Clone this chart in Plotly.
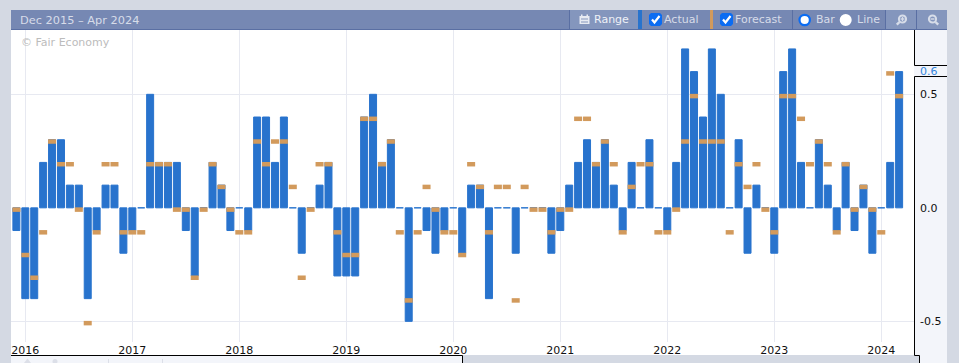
import plotly.graph_objects as go
import pandas as pd

months = pd.date_range("2015-12-01", "2024-03-01", freq="MS").strftime("%Y-%m").tolist()
year_ticks = ["2016-01", "2017-01", "2018-01", "2019-01", "2020-01", "2021-01", "2022-01", "2023-01", "2024-01"]
year_labels = ["2016", "2017", "2018", "2019", "2020", "2021", "2022", "2023", "2024"]
value_ticks = [-0.5, 0.0, 0.5]
value_labels = ["-0.5", "0.0", "0.5"]

actual = [-0.1,
          -0.4, -0.4, 0.2, 0.3, 0.3, 0.1, 0.1, -0.4, -0.1, 0.1, 0.1, -0.2,
          -0.1, 0.0, 0.5, 0.2, 0.2, 0.2, -0.1, -0.3, 0.0, 0.2, 0.1, -0.1,
          0.0, -0.1, 0.4, 0.4, 0.2, 0.4, 0.0, -0.2, 0.0, 0.1, 0.2, -0.3,
          -0.3, -0.3, 0.4, 0.5, 0.2, 0.3, 0.0, -0.5, 0.0, -0.1, -0.2, -0.1,
          0.0, -0.2, 0.1, 0.1, -0.4, 0.0, 0.0, -0.2, 0.0, 0.0, 0.0, -0.2,
          -0.1, 0.1, 0.2, 0.3, 0.2, 0.3, 0.1, -0.1, 0.2, 0.0, 0.3, 0.0,
          -0.1, 0.2, 0.7, 0.6, 0.4, 0.7, 0.5, 0.0, 0.3, -0.2, 0.1, 0.0,
          -0.2, 0.6, 0.7, 0.2, 0.0, 0.3, 0.1, -0.1, 0.2, -0.1, 0.1, -0.2,
          0.0, 0.2, 0.6]
forecast = [0.0,
            -0.2, -0.3, -0.1, 0.3, 0.2, 0.2, 0.0, -0.5, -0.1, 0.2, 0.2, -0.1,
            -0.1, -0.1, 0.2, 0.2, 0.2, 0.0, 0.0, -0.3, 0.0, 0.2, 0.1, 0.0,
            -0.1, -0.1, 0.3, 0.2, 0.3, 0.3, 0.1, -0.3, 0.0, 0.2, 0.2, -0.1,
            -0.2, -0.2, 0.4, 0.4, 0.2, 0.3, -0.1, -0.4, -0.1, 0.1, 0.0, -0.1,
            -0.1, -0.2, 0.2, 0.1, -0.1, 0.1, 0.1, -0.4, 0.1, 0.0, 0.0, -0.1,
            0.0, 0.0, 0.4, 0.4, 0.2, 0.3, 0.2, -0.1, 0.1, 0.2, 0.2, -0.1,
            -0.1, 0.0, 0.3, 0.5, 0.3, 0.3, 0.3, -0.1, 0.2, 0.1, 0.2, 0.0,
            -0.1, 0.5, 0.5, 0.4, 0.2, 0.3, 0.2, -0.1, 0.2, 0.0, 0.1, 0.0,
            -0.1, 0.6, 0.5]

BLUE = "#2873cd"
TAN = "#d29a5c"
PAGE = "#d4d9e3"
PANEL = "#f3f5fa"
HEAD = "#7688b3"
HEAD_LIGHT = "#8496bd"
SEP = "#5a6fa3"
GRID = "#e7e9f1"
HTEXT = "#d6dce9"
CHECK = "#0b6cf2"
FONT = "DejaVu Sans"
W, H = 959, 363
L, R, T, B = 11, 914, 30, 342


def px(x):
    return (x - L) / (R - L)


def py(y):
    return (B - y) / (B - T)


shapes = []


def rect(x0, y0, x1, y1, fill):
    shapes.append(dict(type="rect", xref="paper", yref="paper", layer="below",
                       x0=px(x0), x1=px(x1), y0=py(y0), y1=py(y1),
                       fillcolor=fill, line=dict(width=0)))


def line(x0, y0, x1, y1, color, width=1):
    shapes.append(dict(type="line", xref="paper", yref="paper", layer="below",
                       x0=px(x0), x1=px(x1), y0=py(y0), y1=py(y1),
                       line=dict(color=color, width=width)))


def circle(cx, cy, r, fill, stroke=None, width=0):
    shapes.append(dict(type="circle", xref="paper", yref="paper", layer="below",
                       x0=px(cx - r), x1=px(cx + r), y0=py(cy - r), y1=py(cy + r),
                       fillcolor=fill, line=dict(color=stroke or fill, width=width)))


def path(points, fill=None, stroke=None, width=0, close=False):
    d = "M" + " L".join(f"{px(a):.5f},{py(b):.5f}" for a, b in points) + (" Z" if close else "")
    shapes.append(dict(type="path", xref="paper", yref="paper", layer="below", path=d,
                       fillcolor=fill or "rgba(0,0,0,0)",
                       line=dict(color=stroke or "rgba(0,0,0,0)", width=width)))


annotations = []


def label(x, y, text, color=HTEXT, size=11, anchor="left"):
    annotations.append(dict(xref="paper", yref="paper", x=px(x), y=py(y), text=text,
                            showarrow=False, xanchor=anchor, yanchor="middle",
                            borderpad=0, borderwidth=0,
                            font=dict(family=FONT, size=size, color=color)))


# frame
rect(L, T, R, 355, "#ffffff")
rect(R, T, 947, 355.5, PANEL)
rect(919, 355, 947, H, PANEL)
rect(L, 355, 462.5, H, PANEL)
line(L, 355.5, 462.5, 355.5, "#000000")
line(462.5, 355.5, 462.5, H, "#000000")
line(914.5, T, 914.5, 65.5, "#000000")
line(914.5, 76.5, 914.5, 355.5, "#000000")
line(914.5, 65.5, 947, 65.5, "#000000")
line(914.5, 76.5, 947, 76.5, "#000000")
line(914.5, 355.5, 919.5, 355.5, "#000000")
line(919.5, 355.5, 919.5, H, "#000000")

# faint marks on the lower strip
path([(24, H), (27.5, 358.5), (31, H)], fill="#dcdfe8", close=True)
circle(55, 361.5, 2.5, "#dcdfe8")
line(108.5, 359, 108.5, H, "#dcdfe8")
line(162.5, 359, 162.5, H, "#dcdfe8")

# header
rect(L, 10, 947, 29, HEAD)
rect(570, 10, 638, 29, HEAD_LIGHT)
rect(886, 10, 947, 29, HEAD_LIGHT)
line(L, 29.5, 947, 29.5, SEP)
for x in (569.5, 792.5, 885.5, 916.5):
    line(x, 10, x, 29, SEP)
rect(638, 10, 642, 29, BLUE)
rect(710, 10, 713, 29, TAN)

# calendar icon
rect(579.5, 16, 589.5, 24, "#e6eaf2")
rect(581, 18.5, 588, 19.5, HEAD_LIGHT)
rect(581, 21.5, 588, 22.5, HEAD_LIGHT)
rect(581, 14.5, 582.5, 17, "#e6eaf2")
rect(586.5, 14.5, 588, 17, "#e6eaf2")

# check boxes
for x0 in (649, 720):
    path([(x0 + 2, 13), (x0 + 11, 13), (x0 + 13, 15), (x0 + 13, 24), (x0 + 11, 26),
          (x0 + 2, 26), (x0, 24), (x0, 15)], fill=CHECK, close=True)
    path([(x0 + 3, 19.5), (x0 + 5.5, 22.5), (x0 + 10.5, 16)], stroke="#ffffff", width=2.2)

# radios
circle(804.7, 20, 5.2, "#ffffff", CHECK, 2.2)
circle(845.7, 20, 6, "#ffffff")

# zoom icons
circle(902.5, 19, 3.6, "rgba(0,0,0,0)", "#d7dde9", 2)
line(899.5, 22, 896.8, 24.7, "#d7dde9", 2.4)
line(900.5, 19, 904.5, 19, "#d7dde9", 1.4)
line(902.5, 17, 902.5, 21, "#d7dde9", 1.4)
circle(932.5, 19, 3.6, "rgba(0,0,0,0)", "#d7dde9", 2)
line(935.5, 22, 938.2, 24.7, "#d7dde9", 2.4)
line(930.5, 19, 934.5, 19, "#d7dde9", 1.4)

label(20, 20, "Dec 2015 – Apr 2024", size=11.35)
label(594, 20, "Range", color="#eef1f7")
label(664, 20, "Actual")
label(735, 20, "Forecast")
label(816, 20, "Bar")
label(857, 20, "Line")
label(21, 43, "© Fair Economy", color="#bcbcbc")
label(919.5, 71, "0.6", color="#3284dc")

thick = 0.0198
lift = 0.002

fig = go.Figure()
fig.add_bar(x=months, y=actual, name="Actual", width=0.785,
            marker=dict(color=BLUE, line=dict(color=BLUE, width=1)))
fig.add_bar(x=months, y=[-thick] * len(forecast), base=[f + lift for f in forecast],
            name="Forecast", width=0.9, marker=dict(color=TAN, line=dict(width=0)))

fig.update_layout(
    width=W, height=H, autosize=False,
    margin=dict(l=L, r=W - R, t=T, b=H - B, pad=0),
    paper_bgcolor=PAGE, plot_bgcolor="#ffffff",
    barmode="overlay", showlegend=False, hovermode=False,
    shapes=shapes, annotations=annotations,
    font=dict(family=FONT, size=11, color="#111111"),
    xaxis=dict(type="category", categoryorder="array", categoryarray=months, automargin=False,
               range=[-0.605, 100.67], tickmode="array", tickvals=year_ticks, ticktext=year_labels,
               showgrid=True, gridcolor=GRID, gridwidth=1, zeroline=False, showline=False,
               ticks="", tickfont=dict(family=FONT, size=11, color="#111111"), tickangle=0),
    yaxis=dict(side="right", range=[-0.591, 0.7833], tickmode="array", tickvals=value_ticks,
               automargin=False,
               ticktext=value_labels, showgrid=True, gridcolor=GRID, gridwidth=1,
               zeroline=True, zerolinecolor="rgba(0,0,0,0)", zerolinewidth=1, showline=False,
               ticks="", ticklabelstandoff=5,
               tickfont=dict(family=FONT, size=11, color="#111111")),
)

fig.write_html("out.html", config=dict(displayModeBar=False),
               post_script="document.body.style.margin='0';document.body.style.overflow='hidden';")
